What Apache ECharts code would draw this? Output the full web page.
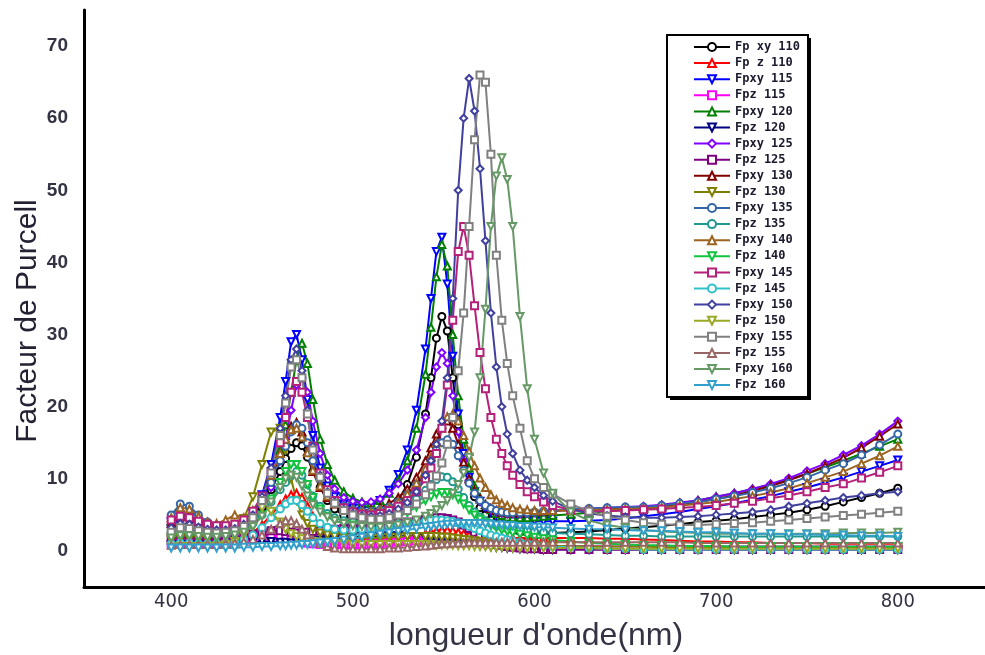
<!DOCTYPE html>
<html>
<head>
<meta charset="utf-8">
<script src="https://cdn.jsdelivr.net/npm/echarts@6/dist/echarts.min.js"></script>
<style>
  html, body { margin: 0; padding: 0; background: #fff; }
  #chart { width: 985px; height: 655px; }
</style>
</head>
<body>
<div id="chart"></div>
<script>
// Wavelength grid (nm), shared by every curve
const wavelength = [
  400,405,410,415,420,425,430,435,440,445,450,455,
  460,463,466,469,472,475,478,
  482,486,490,495,
  500,505,510,515,520,525,530,535,540,
  543,546,549,552,555,558,561,564,567,570,573,576,579,582,585,588,
  592,596,600,605,610,
  620,630,640,650,660,670,680,690,700,710,720,730,740,750,760,770,780,790,800
];

// Purcell factor, xy and z components, for each size (110 ... 160)
const fpxy110 = [
  3.5,4.5,4.3,3.6,3.0,2.7,2.6,2.8,3.3,4.3,6.0,8.5,
  11.0,12.8,14.2,15.0,14.6,13.0,11.0,
  8.8,7.0,5.8,4.9,
  4.4,4.2,4.3,4.8,5.6,7.0,9.2,13.0,19.0,
  24.0,29.5,32.5,30.5,24.0,17.5,12.8,9.6,7.5,6.0,5.0,4.3,3.8,3.4,3.1,2.9,
  2.7,2.6,2.5,2.5,2.5,
  2.6,2.7,2.9,3.1,3.3,3.5,3.7,4.0,4.2,4.4,4.7,5.0,5.3,5.7,6.2,6.8,7.4,8.0,8.7
];
const fpz110 = [
  1.5,1.6,1.6,1.5,1.4,1.4,1.5,1.7,2.0,2.6,3.6,5.0,
  6.4,7.2,7.8,8.0,7.4,6.2,4.8,
  3.6,2.8,2.3,2.0,
  1.8,1.7,1.7,1.7,1.8,1.9,2.0,2.2,2.4,
  2.6,2.8,2.9,2.9,2.8,2.6,2.4,2.2,2.1,2.0,1.9,1.9,1.8,1.8,1.8,1.8,
  1.8,1.8,1.8,1.8,1.8,
  1.8,1.8,1.7,1.7,1.6,1.5,1.4,1.3,1.3,1.2,1.2,1.1,1.1,1.1,1.0,1.0,1.0,1.0,1.0
];
const fpxy115 = [
  4.0,5.0,4.6,3.8,3.1,2.8,2.7,3.0,3.8,5.2,7.8,12.0,
  18.5,23.5,29.0,30.0,26.5,21.0,16.0,
  11.5,9.0,7.5,6.5,
  6.0,5.9,6.2,7.0,8.4,10.6,14.0,19.5,28.0,
  35.0,41.5,43.5,37.0,27.0,19.0,13.5,10.2,8.2,6.9,6.0,5.4,5.0,4.7,4.5,4.4,
  4.3,4.2,4.1,4.1,4.1,
  4.1,4.2,4.3,4.5,4.8,5.1,5.4,5.8,6.2,6.6,7.1,7.6,8.2,8.8,9.5,10.2,11.0,11.8,12.6
];
const fpz115 = [
  1.0,1.1,1.1,1.0,1.0,1.0,1.1,1.2,1.4,1.7,2.0,2.1,
  2.0,1.8,1.6,1.4,1.2,1.1,1.0,
  0.9,0.9,0.9,0.9,
  0.9,0.9,1.0,1.0,1.1,1.2,1.3,1.4,1.5,
  1.6,1.7,1.7,1.7,1.6,1.5,1.4,1.3,1.2,1.1,1.0,1.0,0.9,0.9,0.9,0.8,
  0.8,0.8,0.8,0.7,0.7,
  0.7,0.7,0.6,0.6,0.6,0.6,0.6,0.6,0.6,0.6,0.6,0.6,0.6,0.6,0.6,0.6,0.6,0.6,0.6
];
const fpxy120 = [
  4.2,5.2,4.9,4.1,3.4,3.0,2.9,3.1,3.7,4.8,6.6,9.5,
  14.0,17.5,22.0,26.5,28.8,26.0,21.0,
  15.5,12.0,9.8,8.2,
  7.3,6.8,6.6,7.0,8.0,9.8,12.5,17.0,24.5,
  31.0,38.0,42.5,39.5,30.0,21.5,15.5,11.5,9.0,7.4,6.4,5.7,5.2,4.9,4.7,4.6,
  4.6,4.6,4.7,4.8,4.9,
  5.1,5.3,5.5,5.7,6.0,6.3,6.6,7.0,7.5,8.0,8.6,9.2,9.9,10.7,11.6,12.5,13.5,14.5,15.5
];
const fpz120 = [
  0.8,0.9,0.9,0.9,0.9,0.9,1.0,1.0,1.1,1.2,1.3,1.3,
  1.2,1.2,1.1,1.1,1.2,1.3,1.4,
  1.5,1.6,1.7,1.8,
  1.9,2.0,2.0,2.1,2.1,2.1,2.0,1.9,1.8,
  1.7,1.6,1.5,1.4,1.3,1.2,1.1,1.0,0.9,0.8,0.7,0.6,0.5,0.5,0.4,0.4,
  0.3,0.3,0.3,0.2,0.2,
  0.2,0.2,0.2,0.2,0.2,0.2,0.2,0.2,0.2,0.2,0.2,0.2,0.2,0.2,0.2,0.2,0.2,0.2,0.2
];
const fpxy125 = [
  3.6,4.6,4.4,3.7,3.1,2.8,2.8,3.0,3.6,4.6,6.2,8.8,
  12.5,15.5,19.5,23.0,24.0,22.0,18.0,
  13.5,10.5,8.6,7.4,
  6.9,6.7,6.8,7.2,8.0,9.3,11.2,14.0,18.5,
  22.0,25.5,27.5,26.0,21.5,16.5,12.5,9.8,8.0,6.9,6.2,5.7,5.4,5.2,5.1,5.1,
  5.1,5.2,5.3,5.4,5.5,
  5.8,5.9,6.0,6.1,6.2,6.4,6.7,7.0,7.5,8.0,8.6,9.3,10.1,11.1,12.1,13.3,14.6,16.2,18.0
];
const fpz125 = [
  2.0,2.2,2.2,2.0,1.8,1.7,1.7,1.8,2.0,2.3,2.6,2.8,
  2.8,2.7,2.6,2.5,2.5,2.6,2.7,
  2.8,2.9,3.0,3.1,
  3.2,3.3,3.4,3.5,3.6,3.8,4.0,4.2,4.4,
  4.5,4.6,4.6,4.5,4.3,4.0,3.6,3.1,2.6,2.1,1.7,1.3,1.0,0.8,0.6,0.5,
  0.4,0.3,0.3,0.2,0.2,
  0.2,0.2,0.2,0.2,0.2,0.2,0.2,0.2,0.2,0.2,0.2,0.2,0.2,0.2,0.2,0.2,0.2,0.2,0.2
];
const fpxy130 = [
  3.8,4.8,4.7,4.1,3.6,3.3,3.3,3.6,4.3,5.4,7.2,10.0,
  13.5,15.5,17.3,17.8,16.5,13.8,11.0,
  8.8,7.4,6.5,6.0,
  5.7,5.6,5.7,6.0,6.6,7.4,8.6,10.2,12.5,
  14.3,16.2,17.5,18.0,17.0,14.8,12.3,10.0,8.4,7.2,6.4,5.9,5.6,5.4,5.3,5.3,
  5.3,5.4,5.5,5.5,5.6,
  5.6,5.7,5.8,5.9,6.0,6.2,6.5,6.8,7.2,7.7,8.3,9.0,9.8,10.7,11.8,12.9,14.3,15.9,17.6
];
const fpz130 = [
  1.5,1.7,1.7,1.6,1.6,1.8,2.2,3.0,4.5,7.5,12.0,16.5,
  17.0,14.0,10.0,7.0,5.0,3.8,3.0,
  2.5,2.2,2.0,1.9,
  1.8,1.8,1.8,1.8,1.9,1.9,2.0,2.0,2.0,
  2.0,2.0,1.9,1.9,1.8,1.7,1.6,1.5,1.4,1.3,1.2,1.1,1.0,1.0,0.9,0.9,
  0.8,0.8,0.8,0.7,0.7,
  0.7,0.6,0.6,0.6,0.6,0.5,0.5,0.5,0.5,0.5,0.5,0.5,0.5,0.5,0.5,0.5,0.5,0.5,0.5
];
const fpxy135 = [
  5.0,6.5,6.2,5.0,4.0,3.4,3.2,3.4,4.0,5.2,7.0,9.5,
  12.5,14.5,16.5,17.5,17.0,15.0,12.5,
  10.0,8.2,7.0,6.2,
  5.7,5.5,5.5,5.7,6.1,6.8,7.8,9.2,11.0,
  12.5,14.0,15.0,15.4,14.8,13.2,11.2,9.4,8.0,7.0,6.3,5.9,5.6,5.4,5.3,5.3,
  5.3,5.3,5.4,5.5,5.6,
  5.8,5.9,6.0,6.1,6.1,6.3,6.6,6.8,7.2,7.6,8.1,8.7,9.4,10.2,11.2,12.1,13.3,14.7,16.2
];
const fpz135 = [
  2.8,3.2,3.1,2.8,2.5,2.4,2.4,2.6,3.0,3.8,5.0,6.8,
  8.5,9.5,10.5,11.0,10.5,9.2,7.6,
  6.2,5.2,4.6,4.2,
  4.0,4.0,4.1,4.4,4.8,5.4,6.2,7.2,8.4,
  9.2,9.9,10.3,10.2,9.6,8.6,7.4,6.3,5.4,4.7,4.2,3.8,3.5,3.3,3.1,3.0,
  2.9,2.8,2.7,2.6,2.5,
  2.4,2.3,2.2,2.1,2.1,2.0,2.0,2.0,2.0,2.0,2.0,2.0,2.0,2.0,2.0,2.0,2.0,2.0,2.0
];
const fpxy140 = [
  4.6,6.0,5.8,4.8,4.0,3.8,4.3,5.0,4.6,5.6,7.5,10.5,
  13.5,15.5,16.8,17.0,15.8,13.6,11.2,
  9.0,7.6,6.6,6.0,
  5.6,5.4,5.4,5.6,6.0,6.8,7.9,9.4,11.4,
  13.0,15.0,17.0,18.6,19.0,18.0,16.0,13.8,11.8,10.1,8.8,7.8,7.1,6.6,6.3,6.0,
  5.8,5.7,5.6,5.6,5.6,
  5.6,5.7,5.7,5.8,5.9,6.0,6.3,6.5,6.8,7.2,7.6,8.1,8.7,9.4,10.2,11.0,12.1,13.2,14.5
];
const fpz140 = [
  1.8,2.0,2.0,1.9,1.8,1.8,1.9,2.1,2.6,3.4,5.0,7.2,
  9.5,11.0,12.0,12.0,11.0,9.2,7.4,
  5.8,4.8,4.2,3.8,
  3.6,3.6,3.7,3.9,4.2,4.7,5.3,6.1,7.0,
  7.5,7.9,8.1,8.1,7.8,7.2,6.5,5.7,5.0,4.4,3.9,3.5,3.2,2.9,2.7,2.5,
  2.3,2.1,1.9,1.7,1.5,
  1.3,1.1,1.0,0.9,0.8,0.8,0.7,0.7,0.7,0.6,0.6,0.6,0.6,0.6,0.6,0.6,0.6,0.6,0.6
];
const fpxy145 = [
  4.3,4.8,4.6,4.1,3.7,3.5,3.5,3.7,4.3,5.5,7.6,11.0,
  15.0,18.5,22.0,23.5,22.0,18.5,14.5,
  10.8,8.5,7.0,6.0,
  5.4,5.1,5.0,5.2,5.6,6.2,7.0,8.2,10.0,
  11.5,13.5,17.0,23.0,32.0,41.5,45.0,41.0,34.0,27.5,22.5,18.5,15.5,13.5,11.8,10.5,
  9.2,8.2,7.5,6.8,6.3,
  5.7,5.5,5.5,5.6,5.7,5.8,6.0,6.1,6.3,6.6,6.9,7.3,7.7,8.2,8.8,9.3,10.1,10.9,11.8
];
const fpz145 = [
  1.0,1.1,1.1,1.0,1.0,1.0,1.1,1.3,1.6,2.2,3.2,4.6,
  5.8,6.5,7.0,7.0,6.4,5.5,4.6,
  3.8,3.3,3.0,2.9,
  2.9,3.0,3.1,3.3,3.5,3.7,3.9,4.1,4.2,
  4.3,4.3,4.3,4.2,4.1,3.9,3.7,3.4,3.1,2.8,2.5,2.2,2.0,1.8,1.6,1.4,
  1.2,1.0,0.9,0.7,0.6,
  0.5,0.4,0.3,0.3,0.2,0.2,0.2,0.2,0.2,0.2,0.2,0.2,0.2,0.2,0.2,0.2,0.2,0.2,0.2
];
const fpxy150 = [
  3.2,3.8,3.7,3.3,3.0,2.9,2.9,3.1,3.7,5.0,7.5,11.5,
  17.0,21.5,26.5,28.0,25.0,19.5,14.5,
  10.5,8.2,6.8,5.8,
  5.2,4.9,4.8,4.9,5.2,5.8,6.7,8.2,10.5,
  12.5,14.8,18.0,24.0,35.0,50.0,60.0,65.5,61.0,53.0,43.0,33.0,25.5,20.0,16.2,13.5,
  11.2,9.8,8.8,7.7,6.9,
  5.8,5.2,4.9,4.7,4.6,4.6,4.7,4.8,5.0,5.2,5.4,5.7,6.2,6.6,7.0,7.4,7.7,8.0,8.2
];
const fpz150 = [
  0.5,0.6,0.6,0.6,0.6,0.7,0.9,1.3,2.2,4.0,6.0,5.5,
  4.0,3.0,2.4,2.0,1.7,1.5,1.3,
  1.2,1.1,1.0,1.0,
  0.9,0.9,0.9,0.9,0.9,0.9,0.9,0.9,0.9,
  0.9,0.8,0.8,0.8,0.8,0.7,0.7,0.7,0.6,0.6,0.6,0.5,0.5,0.5,0.5,0.4,
  0.4,0.4,0.4,0.4,0.4,
  0.4,0.4,0.3,0.3,0.3,0.3,0.3,0.3,0.3,0.3,0.3,0.3,0.3,0.3,0.3,0.3,0.3,0.3,0.3
];
const fpxy155 = [
  2.6,3.2,3.1,2.8,2.6,2.5,2.6,2.8,3.4,4.6,7.0,10.8,
  16.0,20.5,25.5,26.5,24.0,19.0,14.0,
  10.2,8.0,6.6,5.6,
  5.0,4.6,4.4,4.4,4.6,5.0,5.6,6.5,7.8,
  9.0,10.4,12.2,14.8,18.5,25.0,33.0,45.0,57.0,66.0,65.0,55.0,41.0,32.0,26.0,21.5,
  17.0,12.5,10.0,8.8,7.9,
  6.5,5.5,4.8,4.3,3.9,3.7,3.6,3.6,3.7,3.8,3.9,4.1,4.3,4.5,4.7,4.9,5.1,5.3,5.5
];
const fpz155 = [
  0.8,0.9,0.9,0.9,0.9,0.9,1.0,1.1,1.3,1.6,2.2,3.0,
  3.8,4.2,4.2,3.8,3.0,2.2,1.5,
  1.0,0.6,0.4,0.3,
  0.3,0.3,0.3,0.3,0.4,0.4,0.5,0.6,0.7,
  0.8,0.9,1.0,1.0,1.1,1.1,1.1,1.2,1.2,1.2,1.2,1.2,1.2,1.2,1.2,1.2,
  1.2,1.2,1.2,1.2,1.2,
  1.2,1.2,1.2,1.2,1.2,1.2,1.2,1.1,1.1,1.1,1.1,1.1,1.1,1.1,1.1,1.1,1.1,1.1,1.1
];
const fpxy160 = [
  1.8,2.1,2.1,2.0,1.9,1.9,2.0,2.2,2.6,3.4,4.8,6.8,
  8.8,10.0,10.5,10.2,9.0,7.6,6.4,
  5.4,4.7,4.2,3.8,
  3.5,3.4,3.3,3.3,3.4,3.6,3.9,4.3,4.8,
  5.2,5.7,6.3,7.0,8.0,9.2,10.8,13.0,16.5,24.0,33.5,45.0,52.0,54.5,51.5,45.0,
  32.5,22.5,15.5,10.8,8.0,
  5.4,4.2,3.6,3.2,2.9,2.7,2.6,2.5,2.4,2.4,2.4,2.4,2.4,2.4,2.4,2.5,2.5,2.5,2.6
];
const fpz160 = [
  0.4,0.4,0.4,0.4,0.4,0.4,0.4,0.4,0.5,0.5,0.6,0.6,
  0.7,0.7,0.8,0.8,0.9,0.9,1.0,
  1.1,1.2,1.3,1.5,
  1.7,1.9,2.1,2.3,2.5,2.7,2.9,3.1,3.3,
  3.4,3.5,3.6,3.7,3.7,3.8,3.8,3.8,3.8,3.8,3.7,3.7,3.6,3.6,3.5,3.5,
  3.4,3.4,3.3,3.3,3.2,
  3.1,3.0,3.0,2.9,2.8,2.8,2.7,2.6,2.6,2.5,2.4,2.4,2.3,2.3,2.2,2.2,2.1,2.1,2.0
];

// Axis tick labels
const xTickLabels = [400, 500, 600, 700, 800];
const yTickLabels = [0, 10, 20, 30, 40, 50, 60, 70];

// Legend names, in drawing order
const seriesNames = [
  'Fp xy 110', 'Fp z 110', 'Fpxy 115', 'Fpz 115', 'Fpxy 120', 'Fpz 120',
  'Fpxy 125', 'Fpz 125', 'Fpxy 130', 'Fpz 130', 'Fpxy 135', 'Fpz 135',
  'Fpxy 140', 'Fpz 140', 'Fpxy 145', 'Fpz 145', 'Fpxy 150', 'Fpz 150',
  'Fpxy 155', 'Fpz 155', 'Fpxy 160', 'Fpz 160'
];
const seriesValues = [
  fpxy110, fpz110, fpxy115, fpz115, fpxy120, fpz120,
  fpxy125, fpz125, fpxy130, fpz130, fpxy135, fpz135,
  fpxy140, fpz140, fpxy145, fpz145, fpxy150, fpz150,
  fpxy155, fpz155, fpxy160, fpz160
];

// Line colours and marker shapes
const seriesColors = [
  '#000000', '#ff0000', '#0000ff', '#ff00ff', '#008000', '#000080',
  '#8000ff', '#800080', '#800000', '#808000', '#3366a8', '#209890',
  '#9c6420', '#11c440', '#b4207a', '#30c2ca', '#40409e', '#9aaa28',
  '#808080', '#996666', '#669966', '#33a0cc'
];
const MARK = {
  circle: ['emptyCircle', 0], up: ['emptyTriangle', 0], down: ['emptyTriangle', 180],
  square: ['emptyRect', 0], diamond: ['emptyDiamond', 0]
};
const seriesMarks = [
  'circle', 'up', 'down', 'square', 'up', 'down',
  'diamond', 'square', 'up', 'down', 'circle', 'circle',
  'up', 'down', 'square', 'circle', 'diamond', 'down',
  'square', 'up', 'down', 'down'
];

seriesValues.forEach((vals, i) => {
  if (vals.length !== wavelength.length) throw new Error(seriesNames[i] + ' length ' + vals.length);
});

const chart = echarts.init(document.getElementById('chart'), null, { renderer: 'canvas' });

const series = seriesValues.map((vals, i) => {
  const mark = MARK[seriesMarks[i]];
  return {
    type: 'line',
    name: seriesNames[i],
    data: wavelength.map((w, k) => [w, vals[k]]),
    symbol: mark[0],
    symbolRotate: mark[1],
    symbolSize: 7,
    showAllSymbol: true,
    lineStyle: { width: 2, color: seriesColors[i] },
    itemStyle: { color: seriesColors[i], borderWidth: 1.5 },
    emphasis: { disabled: true },
    z: 2
  };
});

chart.setOption({
  animation: false,
  backgroundColor: '#ffffff',
  grid: { left: 84, top: 10, width: 903, height: 577, containLabel: false },
  xAxis: {
    type: 'value',
    min: 352,
    max: 848,
    axisLine: { show: true, onZero: false, lineStyle: { color: '#000', width: 3 } },
    axisTick: { show: false },
    splitLine: { show: false },
    axisLabel: {
      customValues: xTickLabels,
      margin: 5,
      fontSize: 20,
      color: '#333344',
      fontFamily: '"Liberation Sans Narrow", "DejaVu Sans Condensed", "Liberation Sans", sans-serif'
    }
  },
  yAxis: {
    type: 'value',
    min: -5,
    max: 75,
    axisLine: { show: true, onZero: false, lineStyle: { color: '#000', width: 3 } },
    axisTick: { show: false },
    splitLine: { show: false },
    axisLabel: {
      customValues: yTickLabels,
      margin: 16,
      fontSize: 19,
      fontWeight: 'bold',
      color: '#333344',
      fontFamily: '"Liberation Sans", Arial, sans-serif'
    }
  },
  legend: {
    orient: 'vertical',
    left: 693,
    top: 41,
    itemWidth: 36,
    itemHeight: 10,
    itemGap: 4.1,
    padding: 0,
    selectedMode: false,
    z: 12,
    textStyle: {
      fontSize: 12,
      fontWeight: 'bold',
      color: '#1a1a2e',
      fontFamily: '"DejaVu Sans Mono", monospace'
    },
    data: seriesNames
  },
  graphic: [
    { type: 'rect', z: 10, shape: { x: 670, y: 38, width: 141, height: 362 }, style: { fill: '#000' } },
    { type: 'rect', z: 11, shape: { x: 667, y: 35, width: 141, height: 362 }, style: { fill: '#fff', stroke: '#000', lineWidth: 2 } },
    {
      type: 'text', z: 11, x: 28, y: 321, rotation: Math.PI / 2,
      style: { text: 'Facteur de Purcell', font: '30px "Liberation Sans", Arial, sans-serif', fill: '#222233', align: 'center', verticalAlign: 'middle' }
    },
    {
      type: 'text', z: 11, x: 536, y: 636,
      style: { text: "longueur d'onde(nm)", font: '32px "Liberation Sans", Arial, sans-serif', fill: '#333344', align: 'center', verticalAlign: 'middle' }
    }
  ],
  series: series
});
</script>
</body>
</html>
